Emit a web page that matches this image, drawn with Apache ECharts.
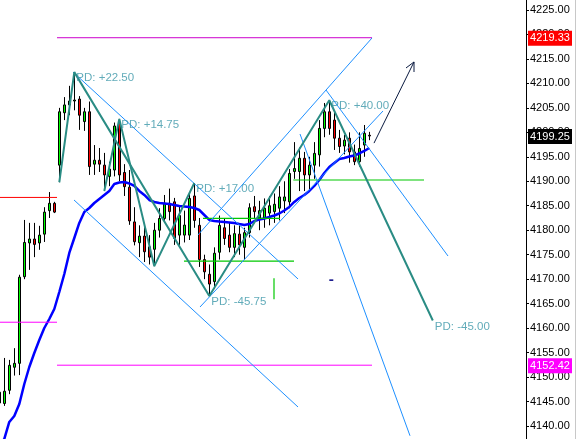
<!DOCTYPE html>
<html><head><meta charset="utf-8">
<script src="https://cdn.jsdelivr.net/npm/echarts@6/dist/echarts.min.js"></script>
<style>html,body{margin:0;padding:0;background:#fff}#c{width:577px;height:439px}</style>
</head><body><div id="c"></div>
<script>
// ---- candle data (index = bar number) ----
const opens  = [4144.7,4144.6,4147.3,4152.0,4152.8,4170.5,4177.4,4178.2,4177.4,4179.2,4184.0,4185.5,4193.3,4204.0,4205.6,4206.4,4206.8,4202.2,4204.2,4193.5,4194.3,4193.3,4191.0,4192.3,4202.0,4191.8,4188.8,4181.7,4177.45,4178.8,4176.6,4176.1,4180.0,4182.4,4185.5,4185.8,4179.0,4179.0,4179.0,4187.0,4181.0,4174.0,4171.0,4169.5,4175.5,4180.5,4179.0,4176.5,4179.2,4176.5,4179.5,4184.8,4182.5,4182.5,4183.5,4183.8,4184.5,4186.0,4185.8,4192.0,4192.0,4194.7,4191.3,4193.3,4195.4,4200.8,4204.2,4202.5,4198.8,4197.2,4198.8,4196.0,4194.0,4197.4,4199.4];
const highs  = [4148.2,4153.9,4153.5,4155.9,4170.9,4182.1,4181.5,4181.5,4180.9,4184.7,4187.8,4185.8,4205.0,4207.2,4209.5,4212.3,4207.4,4205.0,4206.3,4197.4,4196.8,4195.8,4194.0,4202.0,4202.75,4193.5,4192.3,4184.7,4181.0,4181.5,4179.0,4181.5,4184.5,4187.2,4188.5,4186.6,4185.0,4184.0,4187.5,4189.65,4182.5,4175.0,4173.0,4176.5,4183.0,4182.5,4181.5,4181.0,4181.0,4180.5,4185.5,4187.0,4186.0,4186.5,4187.0,4187.5,4189.0,4190.0,4192.5,4198.0,4196.9,4196.0,4195.0,4198.0,4202.5,4206.0,4206.55,4204.0,4200.5,4199.5,4200.0,4197.5,4200.0,4201.5,4200.1];
const lows   = [4143.5,4144.1,4146.5,4150.3,4150.4,4170.0,4171.9,4174.5,4176.0,4177.6,4182.5,4183.5,4189.8,4202.5,4203.5,4204.5,4200.5,4200.3,4191.3,4191.3,4191.9,4188.0,4189.0,4191.0,4190.0,4187.0,4181.1,4176.9,4174.5,4173.5,4173.0,4172.65,4178.5,4181.5,4182.0,4177.0,4177.0,4177.5,4178.0,4180.5,4172.5,4170.0,4166.55,4168.0,4174.0,4177.0,4175.5,4174.5,4175.0,4174.0,4178.5,4182.5,4180.0,4180.5,4181.0,4181.5,4182.0,4183.5,4184.5,4190.5,4188.0,4188.0,4188.0,4190.5,4193.0,4199.0,4199.5,4196.4,4195.8,4195.5,4193.8,4193.3,4193.0,4195.0,4198.4];
const closes = [4146.9,4147.1,4152.4,4152.8,4170.4,4177.5,4178.2,4177.1,4179.0,4183.7,4185.5,4183.7,4204.2,4205.6,4206.4,4206.6,4203.5,4204.2,4193.0,4194.3,4193.5,4191.3,4192.5,4201.3,4191.3,4188.9,4181.9,4177.65,4178.8,4175.6,4174.5,4180.0,4182.4,4185.5,4183.8,4178.35,4183.0,4181.05,4186.5,4182.0,4174.0,4171.5,4169.0,4175.3,4181.0,4178.3,4176.5,4179.3,4177.0,4179.5,4184.6,4183.8,4184.0,4184.5,4185.0,4185.3,4186.8,4186.8,4191.6,4192.6,4194.7,4191.3,4193.3,4195.7,4200.8,4204.2,4200.8,4198.8,4197.1,4198.4,4196.0,4194.0,4196.7,4199.8,4199.25];
// moving average (blue), one value per bar
const maValues = [4135.92,4137.35,4140.82,4142.04,4144.49,4148.58,4152.05,4154.91,4157.57,4160.02,4161.86,4163.90,4167.38,4171.06,4175.35,4178.41,4181.48,4183.73,4184.54,4185.56,4186.38,4187.20,4188.02,4189.45,4189.75,4189.86,4189.55,4189.04,4188.02,4187.20,4186.18,4185.77,4185.56,4185.46,4185.36,4185.16,4184.95,4184.85,4184.75,4184.54,4184.13,4183.11,4182.09,4181.89,4181.78,4181.68,4181.58,4181.48,4181.27,4181.07,4181.27,4181.89,4182.19,4182.40,4182.70,4183.01,4183.42,4184.03,4184.75,4185.77,4186.59,4187.20,4188.02,4189.04,4190.26,4191.69,4192.92,4193.74,4194.55,4194.76,4195.07,4195.27,4195.68,4196.19,4196.80];
// zigzag pivots [bar, price]
const zigzagBig   = [[12,4189.8],[15,4212.3],[42,4166.55],[66,4206.55],[86.7,4161.55]];
const zigzagSmall = [[21,4188.0],[24,4202.75],[31,4172.65],[39,4189.65]];
const pdLabels = [[15,4212.3,'PD: +22.50'],[24,4202.75,'PD: +14.75'],[39,4189.65,'PD: +17.00'],[42,4166.55,'PD: -45.75'],[66,4206.55,'PD: +40.00'],[86.7,4161.55,'PD: -45.00']];
// channel lines [[bar,price],[bar,price]]
const channelLines = [
  [[14.74,4212.33],[59.74,4170.04]],
  [[14.94,4186.18],[59.74,4143.88]],
  [[39.74,4179.03],[74.54,4219.28]],
  [[40.14,4164.31],[76.74,4204.36]],
  [[65.34,4208.65],[89.74,4174.73]],
  [[60.14,4199.66],[82.14,4138.0]]
];
// level lines
const redLevel      = [[0.14,4186.7],[11.54,4186.7]];
const magentaLeft   = [[0.14,4161.2],[11.54,4161.2]];
const topLevel      = [[11.54,4219.33],[74.54,4219.33]];
const bottomLevel   = [[11.54,4152.42],[74.54,4152.42]];
const greenLevels = [
  [[40.74,4182.4],[56.14,4182.4]],
  [[36.94,4173.7],[58.94,4173.7]],
  [[58.8,4190.26],[84.94,4190.26]],
  [[54.94,4170.2],[54.94,4165.9]]
];
const navyDash = [[66.0,4169.8],[66.8,4169.8]];
const arrowShaft = [[74.94,4197.8],[82.94,4214.38]];
const arrowHead  = [[81.34,4213.15],[82.94,4214.38],[82.94,4212.33]];
// price tags on the axis
const priceTags = [[4219.33,'#ff0000'],[4199.25,'#000000'],[4152.42,'#ff00ff']];
// axis settings and tick labels
const X_MIN = 0.14, X_MAX = 105.34;
const Y_MIN = 4137.34, Y_MAX = 4227.04;
const yTickLabels = [4140,4145,4150,4155,4160,4165,4170,4175,4180,4185,4190,4195,4200,4205,4210,4215,4220,4225];

const chart = echarts.init(document.getElementById('c'), null, {renderer:'canvas'});
const FONT = 'Liberation Sans';
function seg(pts, color, width, z){
  return {type:'line', data:pts, symbol:'none', showSymbol:false, silent:true, animation:false,
    lineStyle:{color:color, width:width}, z:z, clip:false};
}
const candleData = opens.map((o,i)=>[i, o, closes[i], lows[i], highs[i]]);
const series = [
  {type:'candlestick', data:candleData, encode:{x:0, y:[1,2,3,4]}, barWidth:3, animation:false, silent:true,
   itemStyle:{color:'#00ff00', color0:'#ff0000', borderColor:'#000', borderColor0:'#000', borderWidth:1}, z:2},
  seg(maValues.map((v,i)=>[i,v]), '#0000ff', 2.5, 3),
  seg(redLevel, '#ff0000', 1, 4),
  seg(magentaLeft, '#ff00ff', 1, 4),
  seg(topLevel, '#cc00cc', 1, 4),
  seg(bottomLevel, '#ff00ff', 1, 4),
];
greenLevels.forEach(l=>series.push(seg(l, '#00c800', 1.2, 4)));
channelLines.forEach(l=>series.push(seg(l, '#1e90ff', 1, 5)));
series.push(seg(navyDash, '#000080', 1.5, 5));
series.push(seg(arrowShaft, '#0a1a40', 1, 6));
series.push(seg(arrowHead, '#0a1a40', 1, 6));
series.push(seg(zigzagSmall, '#2a8c84', 2, 7));
series.push(seg(zigzagBig, '#2a8c84', 2, 7));
series.push({type:'scatter', symbolSize:0, silent:true, animation:false, z:8,
  data: pdLabels.map(d=>({value:[d[0],d[1]], name:d[2]})),
  label:{show:true, formatter:p=>p.name, position:[2,0], align:'left', verticalAlign:'top',
    color:'#3a96a8', fontSize:11.5, fontFamily:FONT}});

chart.setOption({
  backgroundColor:'#ffffff',
  animation:false,
  grid:{left:0, right:51, top:0, bottom:0, containLabel:false},
  xAxis:{type:'value', min:X_MIN, max:X_MAX, show:false},
  yAxis:{type:'value', position:'right', min:Y_MIN, max:Y_MAX,
    axisLine:{show:true, lineStyle:{color:'#000', width:1}},
    axisTick:{show:true, length:3, lineStyle:{color:'#000'}, customValues:yTickLabels},
    splitLine:{show:false},
    axisLabel:{margin:4, color:'#000', fontSize:11, fontFamily:FONT, customValues:yTickLabels, formatter:v=>Number(v).toFixed(2)}},
  series:series
});
const gr = chart.getModel().getComponent('grid').coordinateSystem.getRect();
const axisX = gr.x + gr.width;
const graphics = priceTags.map(([v,c])=>{
  const y = chart.convertToPixel({yAxisIndex:0}, v);
  return {type:'group', z:100, children:[
    {type:'rect', z:100, shape:{x:axisX+2, y:y-7, width:44, height:15}, style:{fill:c}},
    {type:'text', z:101, style:{text:v.toFixed(2), x:axisX+24, y:y+0.5, align:'center', verticalAlign:'middle', fill:'#fff', font:'11px '+FONT}}
  ]};
});
graphics.push({type:'line', z:100, shape:{x1:575.5, y1:0, x2:575.5, y2:439}, style:{stroke:'#c8c8c8', lineWidth:1}});
chart.setOption({graphic:graphics});
</script></body></html>
